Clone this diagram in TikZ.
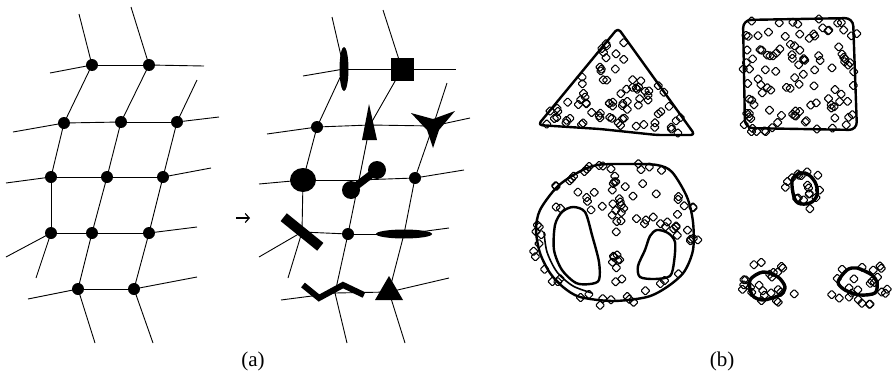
\documentclass[tikz,border=0pt]{standalone}
\usepackage{fontspec}
\setmainfont{Liberation Serif}
\usetikzlibrary{calc, arrows.meta}

\begin{document}
\begin{tikzpicture}[x=1pt, y=-1pt,
    edge/.style={line width=0.9pt},
    blob/.style={fill=black},
    contour/.style={line width=2.4pt, line join=round},
    samp/.pic={\draw[line width=1.05pt, rounded corners=1pt] (-4.5,0) -- (0,-4.5) -- (4.5,0) -- (0,4.5) -- cycle;}]

    % Fix the page size
    \useasboundingbox (0,0) rectangle (895,375);

    % Define mesh vertices, left mesh
    \foreach \n/\x/\y in {a1/92/65, a2/149/65, b1/64/123, b2/121/122, b3/177/122,
                          c1/51/177, c2/107/177, c3/163/177, d1/51/233, d2/92/233,
                          d3/149/233, e1/78/289, e2/134/289}
        \coordinate (L\n) at (\x,\y);

    % Define mesh vertices, right mesh
    \foreach \n/\x/\y in {a1/344/69, a2/402/69, b1/317/127, b2/370/125, b3/433/126,
                          c1/303/180, c2/359/180, c3/415/178, d1/302/232, d2/348/234,
                          d3/404/234, e1/335/293, e2/389/292}
        \coordinate (R\n) at (\x,\y);

    % Draw inner mesh edges
    \foreach \p/\q in {a1/a2, a1/b1, a2/b2, b1/b2, b2/b3, b1/c1, b2/c2, b3/c3,
                       c1/c2, c2/c3, c1/d1, c2/d2, c3/d3, d1/d2, d2/d3, d2/e1,
                       d3/e2, e1/e2}{
        \draw[edge] (L\p) -- (L\q);
        \draw[edge] (R\p) -- (R\q);
    }

    % Draw open mesh edges
    \foreach \n/\e/\x/\y in {a1/u/79/14, a1/l/50/73, a2/u/131/7, a2/r/204/66,
                             b1/l/13/132, b3/r/219/117, b3/u/197/80,
                             c1/l/6/183, c3/r/211/168,
                             d1/l/6/257, d1/d/36/278, d3/r/197/227,
                             e1/l/28/299, e2/r/197/277, e1/d/95/343, e2/d/153/343}{
        \coordinate (L\n\e) at (\x,\y);
        \draw[edge] (L\n) -- (L\n\e);
    }
    \foreach \n/\e/\x/\y in {a1/u/332/17, a1/l/303/76, a2/u/383/10, a2/r/456/69,
                             b1/l/267/134, b3/r/470/118, b3/u/447/83,
                             c1/l/259/184, c3/r/464/170,
                             d1/l/259/257, d1/d/288/278, d3/r/449/228,
                             e1/l/281/300, e2/r/449/278, e1/d/347/343, e2/d/405/343}{
        \coordinate (R\n\e) at (\x,\y);
        \draw[edge] (R\n) -- (R\n\e);
    }

    % Draw left mesh vertices
    \foreach \n in {a1,a2,b1,b2,b3,c1,c2,c3,d1,d2,d3,e1,e2}
        \fill[blob] (L\n) circle (6);

    % Draw right mesh primitives
    \fill[blob] (Ra1) ellipse (4.5 and 22);
    \fill[blob] ($(Ra2)+(-11.5,-11.5)$) rectangle ++(23,23);
    \fill[blob] (Rb1) circle (6);
    \fill[blob] (369,104) -- (377,140) -- (362,140) -- cycle;
    \fill[blob] (411,113) -- (433,119) -- (455,111) -- (439,130) -- (433,148) -- (427,130) -- cycle;
    \fill[blob] (Rc1) ellipse (13 and 12);
    \draw[line width=7.5pt] (351,190) -- (377,170);
    \fill[blob] (351,190) circle (9);
    \fill[blob] (377,170) circle (9);
    \fill[blob] (Rc3) circle (6);
    \fill[blob] (280.6,221.1) -- (286.8,213.3) -- (323.4,242.9) -- (317.2,250.7) -- cycle;
    \fill[blob] (Rd2) circle (6);
    \fill[blob] (Rd3) ellipse (28 and 4.5);
    \draw[line width=6pt, line join=miter] (303,285) -- (319,298) -- (343,285) -- (364,295);
    \fill[blob] (389,276) -- (403,300) -- (375,300) -- cycle;

    % Arrow between meshes
    \coordinate (arrowtail) at (236,218);
    \coordinate (arrowhead) at (250,218);
    \draw[line width=1.2pt, -{Straight Barb[length=4pt, width=9pt]}] (arrowtail) -- (arrowhead);

    % Draw contours of the point sets
    \draw[contour, rounded corners=4pt] (618,28) -- (538,125) -- (600,129) -- (657,135) -- (695,135) -- cycle;
    \draw[contour, rounded corners=8] (743,20) -- (853,18) -- (857,130) -- (745,128) -- cycle;
    \draw[contour] plot[smooth cycle, tension=0.5] coordinates {(597,165) (630,164) (657,165) (672,172)
        (687,197) (693,222) (693,250) (684,272) (667,287) (647,297) (613,301) (580,297) (563,287)
        (550,273) (540,253) (536,230) (540,210) (557,187) (577,173)};
    \draw[contour, line width=1.6pt] plot[smooth, tension=0.5] coordinates {(544,232) (547,252) (557,272)
        (573,286) (592,293)};
    \draw[contour] plot[smooth cycle, tension=0.5] coordinates {(573,207) (585,212) (592,235) (599,262)
        (599,280) (590,284) (576,283) (562,270) (554,250) (555,225) (562,212)};
    \draw[contour] plot[smooth cycle, tension=0.5] coordinates {(657,230) (668,233) (675,242) (674,262)
        (670,276) (655,279) (640,277) (638,266) (645,250) (650,236)};
    \draw[contour, line width=3.4pt] plot[smooth cycle, tension=0.6] coordinates {(793,178) (805,173)
        (815,182) (817,195) (810,203) (798,203) (793,193)};
    \draw[contour, line width=3.4pt] plot[smooth cycle, tension=0.5] coordinates {(750,280) (763,272)
        (778,277) (785,287) (780,295) (763,300) (752,295)};
    \draw[contour, line width=3.4pt] plot[smooth cycle, tension=0.5] coordinates {(847,270) (857,268)
        (872,275) (877,283) (875,293) (860,295) (845,290) (838,282)};

    % Scatter the sample points
    \pgfmathsetseed{4}
    % triangle
    \foreach \i in {1,...,80}{
        \pgfmathsetmacro{\ua}{rnd}
        \pgfmathsetmacro{\va}{rnd}
        \pgfmathtruncatemacro{\flip}{\ua+\va>1 ? 1 : 0}
        \ifnum\flip=1 \pgfmathsetmacro{\ua}{1-\ua}\pgfmathsetmacro{\va}{1-\va}\fi
        \pic at ({618+\ua*(538-618)+\va*(695-618)},{28+\ua*(125-28)+\va*(135-28)}) {samp};
    }
    % square
    \foreach \i in {1,...,110}
        \pic at ({743+rnd*116},{18+rnd*114}) {samp};
    % circle: rim, middle column, upper part
    \foreach \i in {1,...,48}{
        \pgfmathsetmacro{\ang}{rnd*360}
        \pgfmathsetmacro{\rad}{0.92+rnd*0.17}
        \pic at ({614+79*\rad*cos(\ang)},{233+69*\rad*sin(\ang)}) {samp};
    }
    \foreach \i in {1,...,22}
        \pic at ({617+(rnd-0.5)*10},{170+rnd*118}) {samp};
    \foreach \i in {1,...,34}{
        \pgfmathsetmacro{\ang}{-175+rnd*215}
        \pgfmathsetmacro{\rad}{0.35+rnd*0.55}
        \pgfmathsetmacro{\px}{614+78*\rad*cos(\ang)}
        \pgfmathsetmacro{\py}{233+68*\rad*sin(\ang)}
        \pgfmathtruncatemacro{\hole}{((\px-577)/25)*((\px-577)/25)+((\py-246)/40)*((\py-246)/40)<1
            || ((\px-657)/20)*((\px-657)/20)+((\py-255)/27)*((\py-255)/27)<1 ? 1 : 0}
        \ifnum\hole=0 \pic at (\px,\py) {samp};\fi
    }
    % small blobs
    \foreach \cx/\cy/\rx/\ry/\k in {805/189/12/15/18, 767/287/17/14/24, 858/282/19/14/24}{
        \foreach \i in {1,...,\k}{
            \pgfmathsetmacro{\ang}{rnd*360}
            \pgfmathsetmacro{\rad}{0.3+rnd*1.5}
            \pic at ({\cx+\rx*\rad*cos(\ang)},{\cy+\ry*\rad*sin(\ang)}) {samp};
        }
    }

    % Captions
    \node[font=\fontsize{21}{24}\selectfont] (capa) at (253,361) {(a)};
    \node[font=\fontsize{21}{24}\selectfont] (capb) at (722,361) {(b)};

\end{tikzpicture}
\end{document}
